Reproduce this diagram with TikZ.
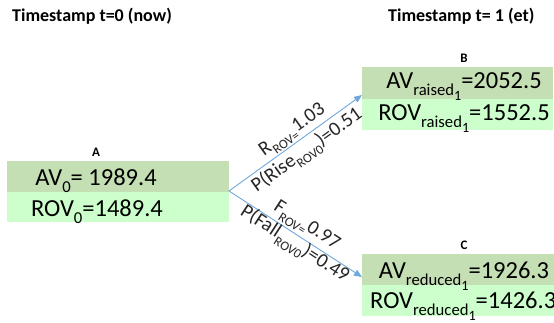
\documentclass[tikz,border=0pt]{standalone}
\usepackage{fontspec}
\setmainfont{Carlito}
\usetikzlibrary{calc,arrows.meta}
\definecolor{avgreen}{HTML}{C5DFB4}
\definecolor{rovgreen}{HTML}{CCFFCC}
\definecolor{arrowblue}{HTML}{6FA8DC}
\newcommand\dn[2][0.68]{\raisebox{-0.3em}{\scalebox{#1}{#2}}}
\begin{document}
\begin{tikzpicture}[x=1pt,y=-1pt,
  avrow/.style={fill=avgreen, draw=none, anchor=north west, inner sep=0pt, outer sep=0pt},
  rovrow/.style={fill=rovgreen, draw=none, anchor=north west, inner sep=0pt, outer sep=0pt},
  boxtext/.style={font=\fontsize{24.5}{25}\selectfont, anchor=base, inner sep=0pt},
  elbl/.style={font=\fontsize{20}{20}\selectfont, anchor=base, inner sep=0pt, text=black!85},
  boxlbl/.style={font=\fontsize{13}{13}\selectfont\bfseries, anchor=base, inner sep=0pt},
  ttl/.style={font=\fontsize{18}{19}\selectfont\bfseries, anchor=base west, inner sep=0pt},
  conn/.style={draw=arrowblue, line width=0.9pt, -{Triangle[length=8pt,width=6.5pt]}}]
\useasboundingbox (0,0) rectangle (554,322);
% titles
\node[ttl] (t0) at (12,21) {Timestamp t=0 (now)};
\node[ttl] (t1) at (388,21) {Timestamp t= 1 (et)};
% box A
\node[avrow, minimum width=222pt, minimum height=31pt] (Aav) at (7,161) {};
\node[rovrow, minimum width=222pt, minimum height=30pt] (Arov) at (7,192) {};
\node[boxlbl] (Al) at (96,156) {A};
\node[boxtext] (Aavt) at (96,185) {AV\dn{0}= 1989.4};
\node[boxtext] (Arovt) at (97,216) {ROV\dn{0}=1489.4};
% box B
\node[avrow, minimum width=191pt, minimum height=32pt] (Bav) at (362,67) {};
\node[rovrow, minimum width=191pt, minimum height=31pt] (Brov) at (362,99) {};
\node[boxlbl] (Bl) at (464,62) {B};
\node[boxtext] (Bavt) at (464,88) {AV\dn{raised\dn[0.85]{1}}=2052.5};
\node[boxtext] (Brovt) at (464,120) {ROV\dn{raised\dn[0.85]{1}}=1552.5};
% box C
\node[avrow, minimum width=200pt, minimum height=31pt] (Cav) at (362,254) {};
\node[rovrow, minimum width=200pt, minimum height=31pt] (Crov) at (362,285) {};
\node[boxlbl] (Cl) at (464,249) {C};
\node[boxtext] (Cavt) at (464,278) {AV\dn{reduced\dn[0.85]{1}}=1926.3};
\node[boxtext, anchor=base west] (Crovt) at (370,308) {ROV\dn{reduced\dn[0.85]{1}}=1426.3};
% connectors
\coordinate (S) at ($(Aav.south east)+(0,-1)$);
\coordinate (Bt) at ($(Bav.south west)+(0,-4)$);
\coordinate (Ct) at ($(Cav.south west)+(0,-8)$);
\draw[conn] (S) -- (Bt);
\draw[conn] (S) -- (Ct);
\coordinate (m1) at ($(S)!0.53!(Bt)$);
\coordinate (m2) at ($(S)!0.53!(Ct)$);
\node[elbl, rotate=35.6] (r1) at ($(m1)!7.5pt!90:(Bt)$) {R\dn[0.66]{ROV=}1.03};
\node[elbl, rotate=35.6] (p1) at ($(m1)!18pt!-90:(Bt)$) {P(Rise\dn[0.66]{ROV0})=0.51};
\node[elbl, rotate=-33] (f1) at ($(m2)!8.5pt!90:(Ct)$) {F\dn[0.66]{ROV=}0.97};
\node[elbl, rotate=-33] (p2) at ($(m2)!14pt!-90:(Ct)$) {P(Fall\dn[0.66]{ROV0})=0.49};
\end{tikzpicture}
\end{document}
